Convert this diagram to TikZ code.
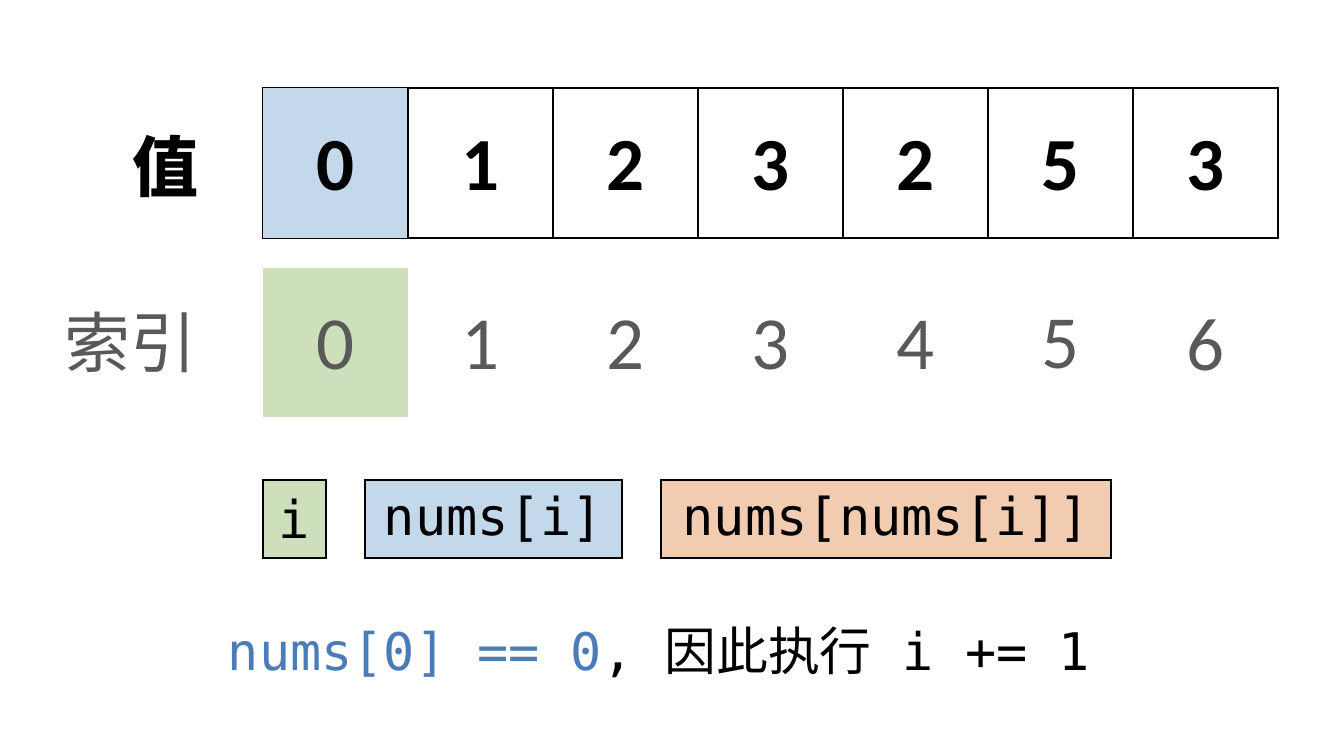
\documentclass[tikz,border=0pt]{standalone}
\usepackage{fontspec}
\setmainfont{Carlito}
\setmonofont{DejaVu Sans Mono}
\newfontfamily\cjk{Noto Sans CJK SC}
\definecolor{cblue}{HTML}{C4D8EC}
\definecolor{cgreen}{HTML}{CDE0BB}
\definecolor{corange}{HTML}{F2CCB0}
\definecolor{tblue}{HTML}{4A7DB8}
\definecolor{tgray}{HTML}{595959}
\begin{document}
\begin{tikzpicture}[x=1pt,y=-1pt,
  cell/.style={draw=black,line width=1.3pt,minimum width=145pt,minimum height=150pt,inner sep=0pt,
    font=\fontsize{75}{80}\selectfont\bfseries},
  tag/.style={draw=black,line width=1.1pt,minimum height=78pt,inner sep=0pt,
    font=\fontsize{52}{60}\selectfont\ttfamily},
  lab/.style={inner sep=0pt,anchor=east}]
\useasboundingbox (0,0) rectangle (1336,750);
\foreach \v [count=\k from 0] in {0,1,2,3,2,5,3}{
  \node[cell] (v\k) at (335.5+\k*145,163) {};
  \node[inner sep=0pt,font=\fontsize{75}{80}\selectfont\bfseries] (d\k) at (335.5+\k*145,166) {\v};
}
\fill[cblue] ([shift={(0.65pt,-0.65pt)}]v0.north west) rectangle ([shift={(-0.65pt,0.65pt)}]v0.south east);
\node[inner sep=0pt,font=\fontsize{75}{80}\selectfont\bfseries] at (d0) {0};
\draw[line width=1.3pt] (v0.north west) rectangle (v6.south east);
\foreach \k in {1,...,6}{\draw[line width=1.3pt] (v\k.north west) -- (v\k.south west);}
\fill[cgreen] (263,268) rectangle (408,417);
\foreach \v [count=\k from 0] in {0,1,2,3,4,5,6}{
  \node[inner sep=0pt,text=tgray,font=\fontsize{75}{80}\selectfont] (i\k) at (335.5+\k*145,345) {\v};
}
\node[lab,font=\cjk\fontsize{66}{70}\selectfont\bfseries] (lv) at (199,166) {值};
\node[lab,font=\cjk\fontsize{66}{70}\selectfont,text=tgray] (li) at (197,342) {索引};
\node[tag,fill=cgreen,minimum width=63pt] (ti) at (294.5,519) {i};
\node[tag,fill=cblue,minimum width=257pt] (tn) at (493.5,519) {nums[i]};
\node[tag,fill=corange,minimum width=450pt] (tnn) at (886,519) {nums[nums[i]]};
\node[inner sep=0pt,font=\fontsize{51.8}{60}\selectfont\ttfamily] (msg) at (659,652)
  {\textcolor{tblue}{nums[0] == 0}, {\cjk 因此执行} i += 1};
\end{tikzpicture}
\end{document}
